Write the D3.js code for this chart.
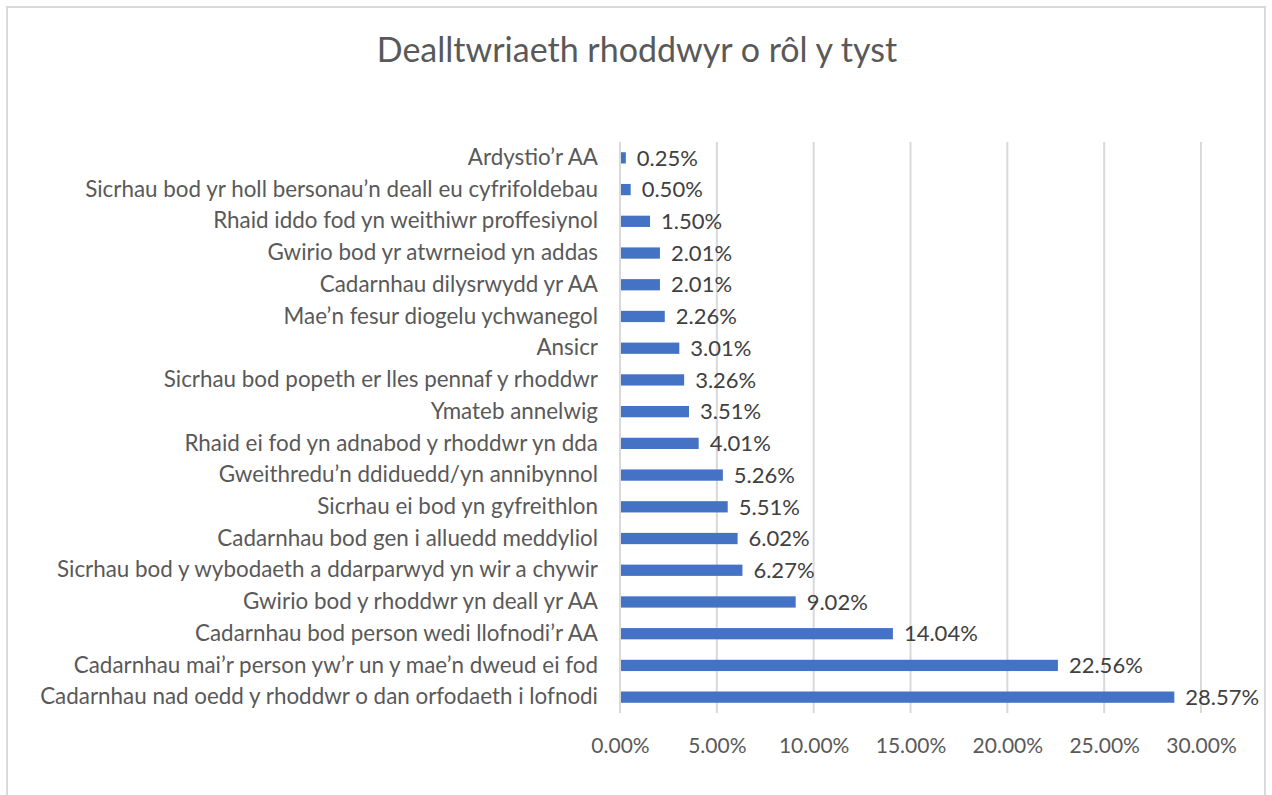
<!DOCTYPE html>
<html>
<head>
<meta charset="utf-8">
<script src="https://cdn.jsdelivr.net/npm/d3@7"></script>
<style>
  body { margin: 0; background: #fff; }
  text { font-family: Lato, "Open Sans", sans-serif; }
</style>
</head>
<body>
<svg id="chart" width="1272" height="795"></svg>
<script>
// data, top of the chart first
var categories = [
  "Ardystio’r AA",
  "Sicrhau bod yr holl bersonau’n deall eu cyfrifoldebau",
  "Rhaid iddo fod yn weithiwr proffesiynol",
  "Gwirio bod yr atwrneiod yn addas",
  "Cadarnhau dilysrwydd yr AA",
  "Mae’n fesur diogelu ychwanegol",
  "Ansicr",
  "Sicrhau bod popeth er lles pennaf y rhoddwr",
  "Ymateb annelwig",
  "Rhaid ei fod yn adnabod y rhoddwr yn dda",
  "Gweithredu’n ddiduedd/yn annibynnol",
  "Sicrhau ei bod yn gyfreithlon",
  "Cadarnhau bod gen i alluedd meddyliol",
  "Sicrhau bod y wybodaeth a ddarparwyd yn wir a chywir",
  "Gwirio bod y rhoddwr yn deall yr AA",
  "Cadarnhau bod person wedi llofnodi’r AA",
  "Cadarnhau mai’r person yw’r un y mae’n dweud ei fod",
  "Cadarnhau nad oedd y rhoddwr o dan orfodaeth i lofnodi"
];
var values = [0.25, 0.50, 1.50, 2.01, 2.01, 2.26, 3.01, 3.26, 3.51, 4.01, 5.26, 5.51, 6.02, 6.27, 9.02, 14.04, 22.56, 28.57];
var xTicks = [0, 5, 10, 15, 20, 25, 30];
var title = "Dealltwriaeth rhoddwyr o rôl y tyst";

var svg = d3.select("#chart");

// outer frame
svg.append("rect")
  .attr("x", 7).attr("y", 7)
  .attr("width", 1258).attr("height", 800)
  .attr("fill", "#fff")
  .attr("stroke", "#d9d9d9")
  .attr("stroke-width", 2);

svg.append("text")
  .attr("x", 637).attr("y", 62)
  .attr("text-anchor", "middle")
  .style("font-size", "34px")
  .style("fill", "#595959")
  .text(title);

var margin = {top: 142, left: 620, right: 1201, bottom: 713};

var x = d3.scaleLinear().domain([0, 30]).range([margin.left, margin.right]);
var y = d3.scaleBand().domain(categories).range([margin.top, margin.bottom]).paddingInner(0.645).paddingOuter(0.3225);

// gridlines
svg.append("g").selectAll("line")
  .data(xTicks)
  .enter().append("line")
  .attr("x1", function(d) { return x(d); })
  .attr("x2", function(d) { return x(d); })
  .attr("y1", margin.top)
  .attr("y2", margin.bottom)
  .attr("stroke", "#d9d9d9")
  .attr("stroke-width", 2);

// x axis labels
var xAxis = d3.axisBottom(x).tickValues(xTicks).tickSize(0).tickPadding(0)
  .tickFormat(function(d) { return d.toFixed(2) + "%"; });
var gx = svg.append("g")
  .attr("transform", "translate(0," + 753 + ")")
  .call(xAxis);
gx.select(".domain").remove();
gx.selectAll("text")
  .attr("dy", 0)
  .style("font-size", "21px")
  .style("font-family", "Lato, sans-serif")
  .style("fill", "#595959");

// category labels
var yAxis = d3.axisLeft(y).tickSize(0).tickPadding(0);
var gy = svg.append("g")
  .attr("transform", "translate(" + 598 + ",0)")
  .call(yAxis);
gy.select(".domain").remove();
gy.selectAll("text")
  .style("font-size", "22.4px")
  .style("font-family", "Lato, sans-serif")
  .style("fill", "#595959");

// bars
svg.append("g").selectAll("rect")
  .data(values)
  .enter().append("rect")
  .attr("x", x(0) + 1)
  .attr("y", function(d, i) { return y(categories[i]); })
  .attr("width", function(d) { return x(d) - x(0); })
  .attr("height", y.bandwidth())
  .attr("fill", "#4472c4");

// value labels
svg.append("g").selectAll("text")
  .data(values)
  .enter().append("text")
  .attr("x", function(d) { return x(d) + 12; })
  .attr("y", function(d, i) { return y(categories[i]) + y.bandwidth() / 2; })
  .attr("dy", "0.35em")
  .style("font-size", "22px")
  .style("fill", "#404040")
  .text(function(d) { return d.toFixed(2) + "%"; });
</script>
</body>
</html>
